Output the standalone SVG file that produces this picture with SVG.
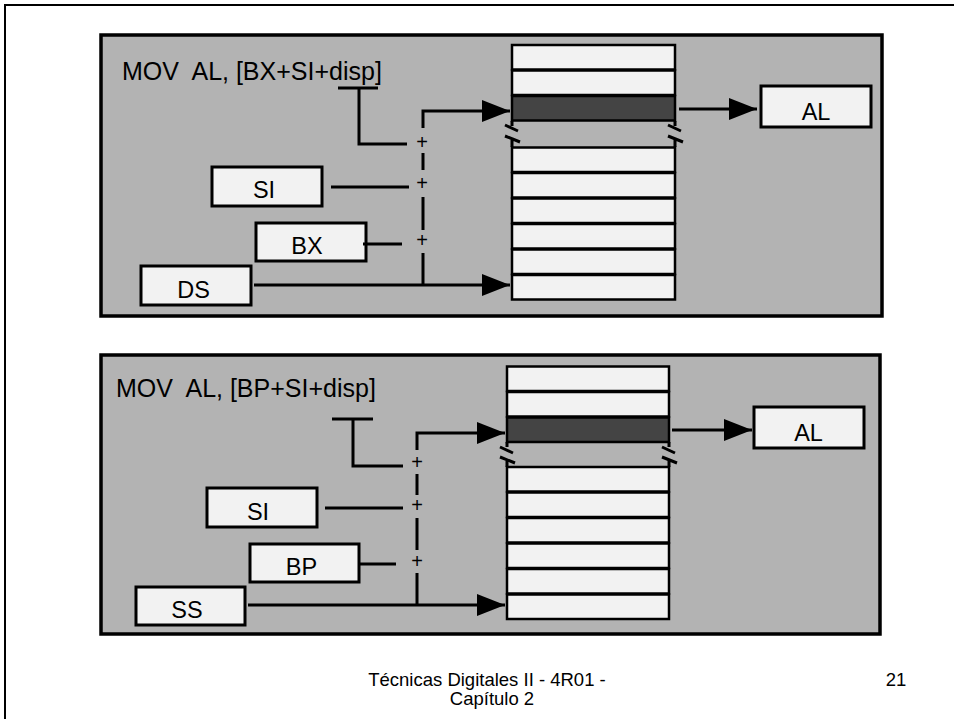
<svg xmlns="http://www.w3.org/2000/svg" width="954" height="719" viewBox="0 0 954 719">
<style>
text{font-family:"Liberation Sans",Arial,sans-serif;fill:#000}
.panel{fill:#b3b3b3;stroke:#000;stroke-width:3.5}
.box{fill:#f2f2f2;stroke:#000;stroke-width:3}
.row{fill:#f2f2f2;stroke:#000;stroke-width:2.5}
.dark{fill:#444;stroke:#000;stroke-width:2.5}
.ln{fill:none;stroke:#000;stroke-width:3}
.lbl{font-size:23.5px;text-anchor:middle}
.ins{font-size:25px}
.plus{font-size:20px;text-anchor:middle}
.foot{font-size:18.5px;text-anchor:middle}
</style>
<defs>
<marker id="ah" viewBox="0 0 28 22" refX="28" refY="11" markerWidth="28" markerHeight="22" markerUnits="userSpaceOnUse" orient="auto">
<path d="M0,0 L28,11 L0,22 Z" fill="#000"/>
</marker>
</defs>
<rect width="954" height="719" fill="#fff"/>
<path d="M5,719 V5 H954" fill="none" stroke="#000" stroke-width="2"/>

<g id="panel-top">
<rect class="panel" x="101" y="35" width="781" height="281"/>
<text class="ins" x="122" y="80" xml:space="preserve">MOV  AL, [BX+SI+disp]</text>
</g>
<g id="memory-top">
<rect class="row" x="512" y="45" width="163" height="24.5"/>
<rect class="row" x="512" y="70.5" width="163" height="24.5"/>
<rect class="dark" x="512" y="96" width="163" height="24.5"/>
<rect class="row" x="512" y="147.5" width="163" height="24.5"/>
<rect class="row" x="512" y="173" width="163" height="24.5"/>
<rect class="row" x="512" y="198.5" width="163" height="24.5"/>
<rect class="row" x="512" y="224" width="163" height="24.5"/>
<rect class="row" x="512" y="249.5" width="163" height="24.5"/>
<rect class="row" x="512" y="275" width="163" height="24.5"/>
<path class="ln" d="M512,121 V126 M512,139 V147 M675,121 V126 M675,139 V147 M505,125 L518,131 M505,136 L520,142 M668,125 L681,131 M668,136 L683,142"/>
</g>
<g id="SI-top"><rect class="box" x="212" y="167" width="110" height="39"/><text class="lbl" x="264" y="198">SI</text></g>
<g id="BX"><rect class="box" x="256" y="223" width="110" height="38"/><text class="lbl" x="307" y="254">BX</text></g>
<g id="DS"><rect class="box" x="141" y="266" width="110" height="39"/><text class="lbl" x="193.5" y="298">DS</text></g>
<g id="AL-top"><rect class="box" x="761" y="86" width="110" height="41"/><text class="lbl" x="816" y="120">AL</text></g>

<g id="panel-bottom">
<rect class="panel" x="101" y="355" width="779" height="279"/>
<text class="ins" x="116" y="397" xml:space="preserve">MOV  AL, [BP+SI+disp]</text>
</g>
<g id="memory-bottom">
<rect class="row" x="507" y="366.5" width="162" height="24.5"/>
<rect class="row" x="507" y="392" width="162" height="24.5"/>
<rect class="dark" x="507" y="417.5" width="162" height="24.5"/>
<rect class="row" x="507" y="467" width="162" height="24.5"/>
<rect class="row" x="507" y="492.5" width="162" height="24.5"/>
<rect class="row" x="507" y="518" width="162" height="24.5"/>
<rect class="row" x="507" y="543.5" width="162" height="24.5"/>
<rect class="row" x="507" y="569" width="162" height="24.5"/>
<rect class="row" x="507" y="594.5" width="162" height="24.5"/>
<path class="ln" d="M507,442 V447 M507,460 V467 M669,442 V447 M669,460 V467 M500,447 L513,453 M500,457 L515,463 M662,447 L675,453 M662,457 L677,463"/>
</g>
<g id="SI-bottom"><rect class="box" x="207" y="488" width="110" height="39"/><text class="lbl" x="258" y="520">SI</text></g>
<g id="BP"><rect class="box" x="250" y="544" width="109" height="38"/><text class="lbl" x="301.5" y="575">BP</text></g>
<g id="SS"><rect class="box" x="136" y="587" width="109" height="38"/><text class="lbl" x="187" y="618">SS</text></g>
<g id="AL-bottom"><rect class="box" x="754" y="407" width="110" height="41"/><text class="lbl" x="808.5" y="441">AL</text></g>

<g id="connectors">
<path class="ln" d="M338,88 H378 M359,88 V144 H407"/>
<path class="ln" d="M423,128 V111 H510" marker-end="url(#ah)"/>
<path class="ln" d="M423,153 V170 M423,197 V230 M423,253 V285"/>
<path class="ln" d="M331,187 H409 M363,244 H402"/>
<path class="ln" d="M254,285 H510" marker-end="url(#ah)"/>
<path class="ln" d="M679,109 H757" marker-end="url(#ah)"/>
<text class="plus" x="422" y="149">+</text>
<text class="plus" x="422" y="190">+</text>
<text class="plus" x="422" y="247">+</text>

<path class="ln" d="M332,419 H373 M353,419 V466 H403"/>
<path class="ln" d="M417,450 V433 H505" marker-end="url(#ah)"/>
<path class="ln" d="M417,474 V495 M417,518 V550 M417,573 V605"/>
<path class="ln" d="M325,508 H403 M358,564 H396"/>
<path class="ln" d="M248,605 H505" marker-end="url(#ah)"/>
<path class="ln" d="M672,430 H752" marker-end="url(#ah)"/>
<text class="plus" x="417" y="469">+</text>
<text class="plus" x="417" y="512">+</text>
<text class="plus" x="417" y="568">+</text>
</g>

<g id="footer">
<text class="foot" x="487" y="686">Técnicas Digitales II - 4R01 -</text>
<text class="foot" x="492" y="705">Capítulo 2</text>
<text class="foot" x="896" y="686">21</text>
</g>
</svg>
